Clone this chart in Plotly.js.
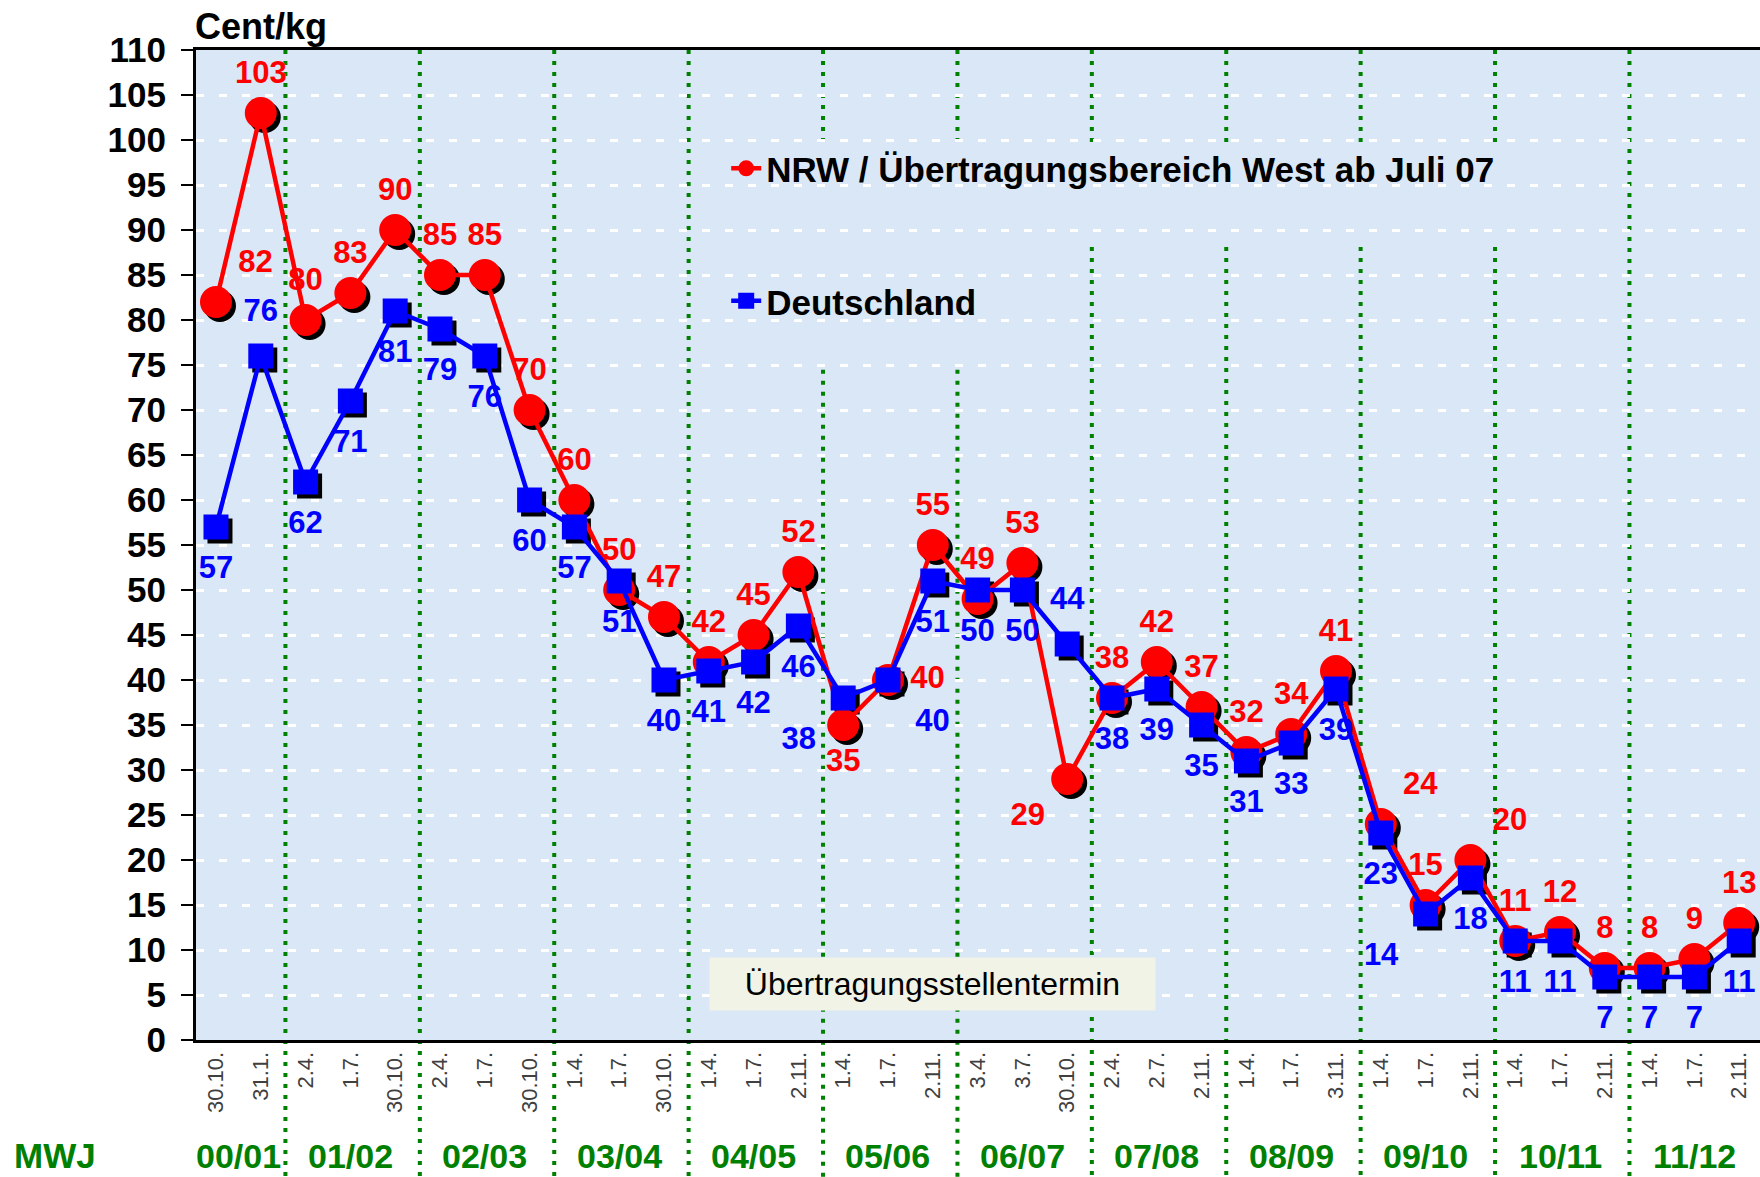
<!DOCTYPE html>
<html>
<head>
<meta charset="utf-8">
<script src="https://cdn.plot.ly/plotly-3.0.1.min.js"></script>
<style>
  body { margin: 0; background: #fff; }
  #chart { width: 1760px; height: 1177px; }
</style>
</head>
<body>
<div id="chart"></div>
<script>
// Stichtage (x labels) and Milchwirtschaftsjahre
var dateLabels = ['30.10.', '31.1.', '2.4.', '1.7.', '30.10.', '2.4.', '1.7.', '30.10.',
  '1.4.', '1.7.', '30.10.', '1.4.', '1.7.', '2.11.', '1.4.', '1.7.', '2.11.',
  '3.4.', '3.7.', '30.10.', '2.4.', '2.7.', '2.11.', '1.4.', '1.7.', '3.11.',
  '1.4.', '1.7.', '2.11.', '1.4.', '1.7.', '2.11.', '1.4.', '1.7.', '2.11.'];
var seasons = ['00/01', '01/02', '02/03', '03/04', '04/05', '05/06',
  '06/07', '07/08', '08/09', '09/10', '10/11', '11/12'];
var seasonSize = [2, 3, 3, 3, 3, 3, 3, 3, 3, 3, 3, 3];

// Cent/kg
var nrw = [82, 103, 80, 83, 90, 85, 85, 70, 60, 50, 47, 42, 45, 52, 35, 40, 55, 49,
  53, 29, 38, 42, 37, 32, 34, 41, 24, 15, 20, 11, 12, 8, 8, 9, 13];
var deutschland = [57, 76, 62, 71, 81, 79, 76, 60, 57, 51, 40, 41, 42, 46, 38, 40, 51, 50,
  50, 44, 38, 39, 35, 31, 33, 39, 23, 14, 18, 11, 11, 7, 7, 7, 11];

var nrwPos = ['top right', 'top center', 'top center', 'top center', 'top center', 'top center',
  'top center', 'top center', 'top center', 'top center', 'top center', 'top center',
  'top center', 'top center', 'bottom center', 'middle right', 'top center', 'top center',
  'top center', 'bottom left', 'top center', 'top center', 'top center', 'top center',
  'top center', 'top center', 'top right', 'top center', 'top right', 'top center',
  'top center', 'top center', 'top center', 'top center', 'top center'];
var dePos = ['bottom center', 'top center', 'bottom center', 'bottom center', 'bottom center',
  'bottom center', 'bottom center', 'bottom center', 'bottom center', 'bottom center',
  'bottom center', 'bottom center', 'bottom center', 'bottom center', 'bottom left',
  'bottom right', 'bottom center', 'bottom center', 'bottom center', 'top center',
  'bottom center', 'bottom center', 'bottom center', 'bottom center', 'bottom center',
  'bottom center', 'bottom center', 'bottom left', 'bottom center', 'bottom center',
  'bottom center', 'bottom center', 'bottom center', 'bottom center', 'bottom center'];

var idx = dateLabels.map(function (d, i) { return i; });
var FONT = 'Liberation Sans, Arial, sans-serif';
var GREEN = '#008000';

// axis ranges (shadow axis is shifted a few px right/down)
var xr = [-0.446, 34.464];
var yr = [0, 110];
var sx = 4 / 44.8, sy = 4 / 9;

var shadowRed = {
  x: idx, y: nrw, xaxis: 'x', yaxis: 'y', mode: 'markers', showlegend: false,
  hoverinfo: 'skip', marker: { symbol: 'circle', size: 32, color: '#000' }
};
var shadowBlue = {
  x: idx, y: deutschland, xaxis: 'x', yaxis: 'y', mode: 'markers', showlegend: false,
  hoverinfo: 'skip', marker: { symbol: 'square', size: 25, color: '#000' }
};
var red = {
  x: idx, y: nrw, xaxis: 'x2', yaxis: 'y2', mode: 'lines+markers',
  name: 'NRW / Übertragungsbereich West ab Juli 07', legendgroup: 'a',
  line: { color: '#ff0000', width: 4.5 },
  marker: { symbol: 'circle', size: 32, color: '#ff0000' }
};
var blue = {
  x: idx, y: deutschland, xaxis: 'x2', yaxis: 'y2', mode: 'lines+markers',
  name: 'Deutschland', legendgroup: 'b',
  line: { color: '#0000ff', width: 4.5 },
  marker: { symbol: 'square', size: 25, color: '#0000ff' }
};
// value labels (invisible markers only set the label distance)
var redText = {
  x: idx, y: nrw, xaxis: 'x2', yaxis: 'y2', mode: 'markers+text', showlegend: false,
  hoverinfo: 'skip', marker: { size: 34, color: 'rgba(0,0,0,0)' },
  text: nrw.map(String), textposition: nrwPos, cliponaxis: false,
  textfont: { family: FONT, size: 31, color: '#ff0000', weight: 'bold' }
};
var blueText = {
  x: idx, y: deutschland, xaxis: 'x2', yaxis: 'y2', mode: 'markers+text', showlegend: false,
  hoverinfo: 'skip', marker: { size: 42, color: 'rgba(0,0,0,0)' },
  text: deutschland.map(String), textposition: dePos, cliponaxis: false,
  textfont: { family: FONT, size: 31, color: '#0000ff', weight: 'bold' }
};

// season separators and labels
var shapes = [];
var annotations = [];
var labelY = -0.1384;   // bottom of the season labels, just inside the picture
var start = 0;
seasons.forEach(function (s, k) {
  var n = seasonSize[k];
  annotations.push({
    xref: 'x2', yref: 'paper', x: start + (n - 1) / 2, y: labelY,
    text: s, showarrow: false, xanchor: 'center', yanchor: 'bottom',
    font: { family: FONT, size: 34, color: GREEN, weight: 'bold' }
  });
  if (k < seasons.length - 1) {
    var bx = start + n - 1 + 0.55;
    var dotted = { color: GREEN, width: 4, dash: '4px,7px' };
    var segs;
    if (k === 4 || k === 5) segs = [[0.677, -0.14], [1, 0.907]];
    else if (k >= 6 && k <= 9) segs = [[0.801, -0.14], [1, 0.907]];
    else segs = [[1, -0.14]];
    segs.forEach(function (sg) {
      shapes.push({
        type: 'line', xref: 'x2', yref: 'paper', x0: bx, x1: bx, y0: sg[0], y1: sg[1],
        layer: 'below', line: dotted
      });
    });
  }
  start += n;
});

annotations.push({
  xref: 'paper', yref: 'paper', x: -0.002, y: 1.024, xanchor: 'left', yanchor: 'middle',
  text: 'Cent/kg', showarrow: false,
  font: { family: FONT, size: 36, color: '#000', weight: 'bold' }
});
annotations.push({
  xref: 'paper', yref: 'paper', x: -0.090, y: labelY, xanchor: 'center', yanchor: 'bottom',
  text: 'MWJ', showarrow: false,
  font: { family: FONT, size: 35, color: GREEN, weight: 'bold' }
});
annotations.push({
  xref: 'x2', yref: 'y2', x: 16.0, y: 6.2, xanchor: 'center', yanchor: 'middle',
  text: 'Übertragungsstellentermin', showarrow: false,
  width: 441, height: 48, borderpad: 2, bgcolor: '#f0f3e6',
  font: { family: FONT, size: 32, color: '#000' }
});

var layout = {
  width: 1760, height: 1177,
  margin: { l: 196, r: 0, t: 50, b: 137 },
  paper_bgcolor: '#ffffff',
  plot_bgcolor: '#dae7f6',
  font: { family: FONT, color: '#000' },
  showlegend: true,
  legend: {
    x: 0.339, y: 0.910, xanchor: 'left', yanchor: 'top',
    bgcolor: 'rgba(0,0,0,0)', traceorder: 'grouped', tracegroupgap: 84,
    font: { family: FONT, size: 35, color: '#000', weight: 'bold' }
  },
  xaxis: { range: [xr[0] - sx, xr[1] - sx], visible: false, fixedrange: true },
  yaxis: { range: [yr[0] + sy, yr[1] + sy], visible: false, fixedrange: true },
  xaxis2: {
    overlaying: 'x', anchor: 'y2', range: xr,
    tickmode: 'array', tickvals: idx, ticktext: dateLabels, tickangle: -90,
    ticks: '', showgrid: false, zeroline: false,
    showline: true, linecolor: '#000', linewidth: 3, mirror: true,
    tickfont: { family: FONT, size: 22, color: '#404040' }
  },
  yaxis2: {
    overlaying: 'y', anchor: 'x2', side: 'left', range: yr,
    tick0: 0, dtick: 5, ticks: 'outside', ticklen: 12, tickwidth: 2, tickcolor: '#000',
    showline: true, linecolor: '#000', linewidth: 3, zeroline: false,
    showgrid: true, gridcolor: '#ffffff', gridwidth: 3, griddash: '8px,15px',
    ticklabelstandoff: 8,
    tickfont: { family: FONT, size: 35, color: '#000', weight: 'bold' }
  },
  shapes: shapes,
  annotations: annotations
};

Plotly.newPlot('chart', [shadowRed, shadowBlue, red, blue, redText, blueText], layout,
  { displayModeBar: false, staticPlot: true });
</script>
</body>
</html>
